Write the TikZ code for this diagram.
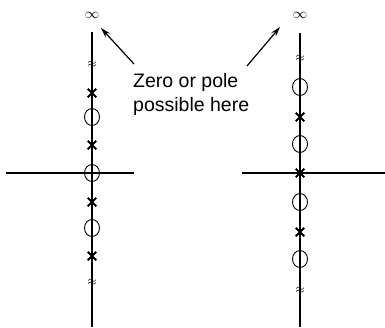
\documentclass[tikz,border=0pt]{standalone}
\usepackage{fontspec}
\setmainfont{Liberation Sans}
\usetikzlibrary{shapes.geometric,shapes.misc,arrows.meta}
\tikzset{
  zero/.style={draw,ellipse,minimum width=15pt,minimum height=17pt,inner sep=0pt,line width=0.9pt},
  pole/.style={draw,cross out,minimum size=6.5pt,inner sep=0pt,line width=2pt},
  brk/.style={inner sep=0pt,font=\fontsize{12}{12}\selectfont},
  inf/.style={inner sep=0pt,font=\fontsize{14}{14}\selectfont},
}
\begin{document}
\begin{tikzpicture}[x=1pt,y=-1pt]
  \useasboundingbox (0,0) rectangle (385,327);

  % Left plane: zero at the origin
  \begin{scope}[shift={(92,173)}]
    \draw[line width=1.2pt] (0,-141) -- (0,154);
    \draw[line width=1.6pt] (-86,0) -- (42,0);
    \node[inf] (linf) at (0,-158) {$\infty$};
    \node[brk] (lbrk1) at (0,-108) {$\approx$};
    \node[brk] (lbrk2) at (0,110) {$\approx$};
    \node[pole] (lp1) at (0,-80) {};
    \node[zero] (lz1) at (0,-56) {};
    \node[pole] (lp2) at (0,-28) {};
    \node[zero] (lz0) at (0,0) {};
    \node[pole] (lp3) at (0,29) {};
    \node[zero] (lz2) at (0,55) {};
    \node[pole] (lp4) at (0,83) {};
  \end{scope}

  % Right plane: pole at the origin
  \begin{scope}[shift={(300,173)}]
    \draw[line width=1.2pt] (0,-140) -- (0,154);
    \draw[line width=1.6pt] (-58,0) -- (85,0);
    \node[inf] (rinf) at (0,-158) {$\infty$};
    \node[brk] (rbrk1) at (0,-114) {$\approx$};
    \node[brk] (rbrk2) at (0,118) {$\approx$};
    \node[zero] (rz1) at (0,-86) {};
    \node[pole] (rp1) at (0,-56) {};
    \node[zero] (rz2) at (0,-29) {};
    \node[pole] (rp0) at (0,0) {};
    \node[zero] (rz3) at (0,29) {};
    \node[pole] (rp2) at (0,59) {};
    \node[zero] (rz4) at (0,86) {};
  \end{scope}

  % Label and its two arrows
  \node[align=left,anchor=north west,inner sep=0pt,
        font=\fontsize{19.5}{24}\selectfont] (note) at (133,73)
    {Zero or pole\\possible here};
  \coordinate (ltail) at (134,64);
  \coordinate (ltip) at (101,28);
  \coordinate (rtail) at (247,66);
  \coordinate (rtip) at (280,27);
  \draw[-{Stealth[length=10pt,width=6pt]},line width=1.2pt] (ltail) -- (ltip);
  \draw[-{Stealth[length=10pt,width=6pt]},line width=1.2pt] (rtail) -- (rtip);
\end{tikzpicture}
\end{document}
